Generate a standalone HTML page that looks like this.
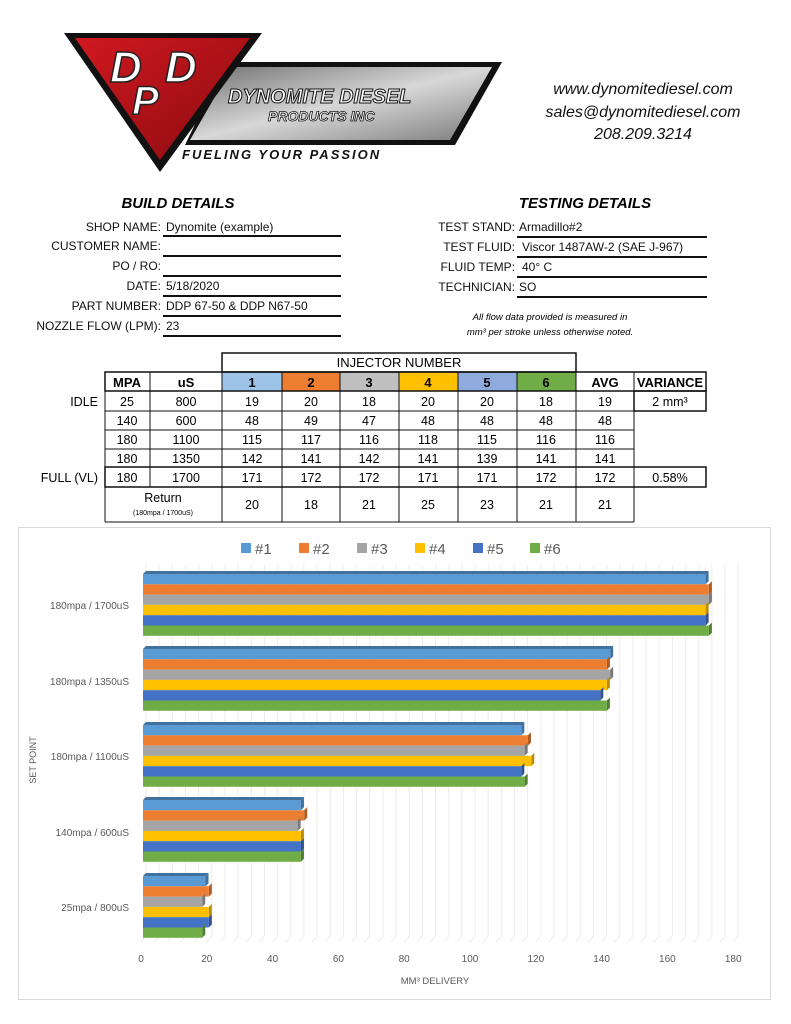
<!DOCTYPE html>
<html><head><meta charset="utf-8"><style>
html,body{margin:0;padding:0;background:#fff}
svg{display:block}
text{font-family:"Liberation Sans",sans-serif}
</style></head><body>
<svg width="791" height="1024" viewBox="0 0 791 1024" xmlns="http://www.w3.org/2000/svg">
<defs>
<linearGradient id="steel" x1="0" y1="0" x2="1" y2="1">
<stop offset="0" stop-color="#6e6e6e"/><stop offset="0.5" stop-color="#d8d8d8"/><stop offset="1" stop-color="#7a7a7a"/>
</linearGradient>
<linearGradient id="redg" x1="0" y1="0" x2="1" y2="1">
<stop offset="0" stop-color="#d01820"/><stop offset="1" stop-color="#8a0c10"/>
</linearGradient>
</defs>
<!-- Logo -->
<polygon points="225,62 502,62 455,145 185,145" fill="#111"/>
<polygon points="232,67 492,67 450,140 190,140" fill="url(#steel)"/>
<polygon points="64,33 262,33 160,172" fill="#111"/>
<polygon points="75,38 250,38 160,160" fill="url(#redg)"/>
<text x="110" y="82" font-size="44" font-weight="bold" font-style="italic" fill="#fff" stroke="#222" stroke-width="1.5">D</text>
<text x="165" y="82" font-size="44" font-weight="bold" font-style="italic" fill="#fff" stroke="#222" stroke-width="1.5">D</text>
<text x="132" y="114" font-size="40" font-weight="bold" font-style="italic" fill="#fff" stroke="#222" stroke-width="1.5">P</text>
<text x="228" y="103" font-size="20" font-weight="bold" font-style="italic" fill="#fff" stroke="#111" stroke-width="1">DYNOMITE DIESEL</text>
<text x="268" y="121" font-size="14" font-weight="bold" font-style="italic" fill="#fff" stroke="#111" stroke-width="0.8">PRODUCTS INC</text>
<text x="182" y="159" font-size="13" font-weight="bold" font-style="italic" fill="#111" letter-spacing="2">FUELING YOUR PASSION</text>

<g font-style="italic" font-size="16" fill="#111" text-anchor="middle">
<text x="643" y="94">www.dynomitediesel.com</text>
<text x="643" y="117">sales@dynomitediesel.com</text>
<text x="643" y="139">208.209.3214</text>
</g>

<!-- Build details -->
<text x="178" y="208" font-size="15" font-weight="bold" font-style="italic" text-anchor="middle">BUILD DETAILS</text>
<text x="585" y="208" font-size="15" font-weight="bold" font-style="italic" text-anchor="middle">TESTING DETAILS</text>
<g font-size="12" fill="#111">
<g text-anchor="end">
<text x="161" y="231">SHOP NAME:</text>
<text x="161" y="250">CUSTOMER NAME:</text>
<text x="161" y="270">PO / RO:</text>
<text x="161" y="290">DATE:</text>
<text x="161" y="310">PART NUMBER:</text>
<text x="161" y="330">NOZZLE FLOW (LPM):</text>
<text x="515" y="231">TEST STAND:</text>
<text x="515" y="251">TEST FLUID:</text>
<text x="515" y="271">FLUID TEMP:</text>
<text x="515" y="291">TECHNICIAN:</text>
</g>
<text x="166" y="231">Dynomite (example)</text>
<text x="166" y="290">5/18/2020</text>
<text x="166" y="310">DDP 67-50 &amp; DDP N67-50</text>
<text x="166" y="330">23</text>
<text x="519" y="231">Armadillo#2</text>
<text x="522" y="251">Viscor 1487AW-2 (SAE J-967)</text>
<text x="522" y="271">40° C</text>
<text x="519" y="291">SO</text>
</g>
<g stroke="#111" stroke-width="2">
<line x1="163" y1="236" x2="341" y2="236"/><line x1="163" y1="256" x2="341" y2="256"/>
<line x1="163" y1="276" x2="341" y2="276"/><line x1="163" y1="296" x2="341" y2="296"/>
<line x1="163" y1="316" x2="341" y2="316"/><line x1="163" y1="336" x2="341" y2="336"/>
<line x1="517" y1="237" x2="707" y2="237"/><line x1="517" y1="257" x2="707" y2="257"/>
<line x1="517" y1="277" x2="707" y2="277"/><line x1="517" y1="297" x2="707" y2="297"/>
</g>
<g font-size="9.5" font-style="italic" text-anchor="middle">
<text x="550" y="320">All flow data provided is measured in</text>
<text x="550" y="335">mm³ per stroke unless otherwise noted.</text>
</g>

<!-- Table -->
<g>
<rect x="222" y="372" width="60" height="19" fill="#9dc3e6"/>
<rect x="282" y="372" width="58" height="19" fill="#ed7d31"/>
<rect x="340" y="372" width="59" height="19" fill="#bfbfbf"/>
<rect x="399" y="372" width="59" height="19" fill="#ffc000"/>
<rect x="458" y="372" width="59" height="19" fill="#8faadc"/>
<rect x="517" y="372" width="59" height="19" fill="#70ad47"/>
</g>
<g stroke="#111" stroke-width="1" fill="none">
<rect x="222" y="353" width="354" height="19" stroke-width="1.5"/>
<rect x="105" y="372" width="601" height="19" stroke-width="1.5"/>
<rect x="105" y="467" width="601" height="20" stroke-width="1.5"/>
<rect x="634" y="391" width="72" height="20" stroke-width="1.5"/>
<line x1="105" y1="391" x2="105" y2="522"/><line x1="150" y1="372" x2="150" y2="487"/>
<line x1="222" y1="372" x2="222" y2="522"/><line x1="282" y1="372" x2="282" y2="522"/>
<line x1="340" y1="372" x2="340" y2="522"/><line x1="399" y1="372" x2="399" y2="522"/>
<line x1="458" y1="372" x2="458" y2="522"/><line x1="517" y1="372" x2="517" y2="522"/>
<line x1="576" y1="353" x2="576" y2="522"/><line x1="634" y1="372" x2="634" y2="522"/>
<line x1="105" y1="411" x2="634" y2="411"/><line x1="105" y1="430" x2="634" y2="430"/>
<line x1="105" y1="449" x2="634" y2="449"/><line x1="105" y1="522" x2="634" y2="522"/>
</g>
<text x="399" y="367" font-size="13" text-anchor="middle">INJECTOR NUMBER</text>
<g font-size="13" font-weight="bold" text-anchor="middle">
<text x="127" y="387">MPA</text><text x="186" y="387">uS</text>
<text x="252" y="387">1</text><text x="311" y="387">2</text><text x="369" y="387">3</text>
<text x="428" y="387">4</text><text x="487" y="387">5</text><text x="546" y="387">6</text>
<text x="605" y="387">AVG</text><text x="670" y="387" textLength="66" lengthAdjust="spacingAndGlyphs">VARIANCE</text>
</g>
<g font-size="12.5" text-anchor="middle">
<text x="98" y="406" text-anchor="end">IDLE</text>
<text x="98" y="482" text-anchor="end">FULL (VL)</text>
<text x="127" y="406">25</text><text x="186" y="406">800</text><text x="252" y="406">19</text><text x="311" y="406">20</text><text x="369" y="406">18</text><text x="428" y="406">20</text><text x="487" y="406">20</text><text x="546" y="406">18</text><text x="605" y="406">19</text><text x="670" y="406">2 mm³</text>
<text x="127" y="425">140</text><text x="186" y="425">600</text><text x="252" y="425">48</text><text x="311" y="425">49</text><text x="369" y="425">47</text><text x="428" y="425">48</text><text x="487" y="425">48</text><text x="546" y="425">48</text><text x="605" y="425">48</text>
<text x="127" y="444">180</text><text x="186" y="444">1100</text><text x="252" y="444">115</text><text x="311" y="444">117</text><text x="369" y="444">116</text><text x="428" y="444">118</text><text x="487" y="444">115</text><text x="546" y="444">116</text><text x="605" y="444">116</text>
<text x="127" y="463">180</text><text x="186" y="463">1350</text><text x="252" y="463">142</text><text x="311" y="463">141</text><text x="369" y="463">142</text><text x="428" y="463">141</text><text x="487" y="463">139</text><text x="546" y="463">141</text><text x="605" y="463">141</text>
<text x="127" y="482">180</text><text x="186" y="482">1700</text><text x="252" y="482">171</text><text x="311" y="482">172</text><text x="369" y="482">172</text><text x="428" y="482">171</text><text x="487" y="482">171</text><text x="546" y="482">172</text><text x="605" y="482">172</text><text x="670" y="482">0.58%</text>
<text x="163" y="502">Return</text>
<text x="163" y="515" font-size="7">(180mpa / 1700uS)</text>
<text x="252" y="509">20</text><text x="311" y="509">18</text><text x="369" y="509">21</text><text x="428" y="509">25</text><text x="487" y="509">23</text><text x="546" y="509">21</text><text x="605" y="509">21</text>
</g>

<!-- Chart -->
<rect x="18.5" y="527.5" width="752" height="472" fill="#fff" stroke="#d9d9d9"/>
<g font-size="15" fill="#595959">
<rect x="241" y="543" width="10" height="10" fill="#5b9bd5"/><text x="255" y="554">#1</text>
<rect x="299" y="543" width="10" height="10" fill="#ed7d31"/><text x="313" y="554">#2</text>
<rect x="357" y="543" width="10" height="10" fill="#a5a5a5"/><text x="371" y="554">#3</text>
<rect x="415" y="543" width="10" height="10" fill="#ffc000"/><text x="429" y="554">#4</text>
<rect x="473" y="543" width="10" height="10" fill="#4472c4"/><text x="487" y="554">#5</text>
<rect x="530" y="543" width="10" height="10" fill="#70ad47"/><text x="544" y="554">#6</text>
</g>
<g id="grid" stroke="#ececec" stroke-width="1"></g>
<g id="bars"></g>
<g font-size="10" fill="#595959" text-anchor="middle" id="xt"></g>
<g font-size="10" fill="#595959" text-anchor="end">
<text x="129" y="609">180mpa / 1700uS</text>
<text x="129" y="685">180mpa / 1350uS</text>
<text x="129" y="760">180mpa / 1100uS</text>
<text x="129" y="836">140mpa / 600uS</text>
<text x="129" y="911">25mpa / 800uS</text>
</g>
<text x="36" y="760" font-size="9" fill="#595959" text-anchor="middle" transform="rotate(-90 36 760)">SET POINT</text>
<text x="435" y="984" font-size="9.5" fill="#595959" text-anchor="middle">MM³ DELIVERY</text>
</svg>
<script>
var ns="http://www.w3.org/2000/svg";
function el(p,t,a,tx){var e=document.createElementNS(ns,t);for(var k in a)e.setAttribute(k,a[k]);if(tx)e.textContent=tx;document.getElementById(p).appendChild(e);}
var x0=143,s=3.29;
for(var v=0;v<=180;v+=4){var x=x0+v*s;el("grid","line",{x1:x+3,y1:565,x2:x+3,y2:936});el("grid","line",{x1:x+3,y1:936,x2:x-2,y2:942});}
for(var v=0;v<=180;v+=20){el("xt","text",{x:x0-2+v*s,y:962},""+v);}
var cols=["#5b9bd5","#ed7d31","#a5a5a5","#ffc000","#4472c4","#70ad47"];
var dark=["#41719c","#ae5a21","#787878","#bc8c00","#2f528f","#507e32"];
var data=[[171,172,172,171,171,172],[142,141,142,141,139,141],[115,117,116,118,115,116],[48,49,47,48,48,48],[19,20,18,20,20,18]];
var tops=[574,649,725,800,876];
for(var g=0;g<5;g++)for(var i=0;i<6;i++){var y=tops[g]+i*10.3,w=data[g][i]*s;
el("bars","polygon",{points:(x0+w)+","+y+" "+(x0+w+3)+","+(y-3)+" "+(x0+w+3)+","+(y+7.3)+" "+(x0+w)+","+(y+10.3),fill:dark[i]});
if(i==0)el("bars","polygon",{points:x0+","+y+" "+(x0+3)+","+(y-3)+" "+(x0+w+3)+","+(y-3)+" "+(x0+w)+","+y,fill:dark[0]});
el("bars","rect",{x:x0,y:y,width:w,height:10.3,fill:cols[i]});}
</script>
</body></html>
